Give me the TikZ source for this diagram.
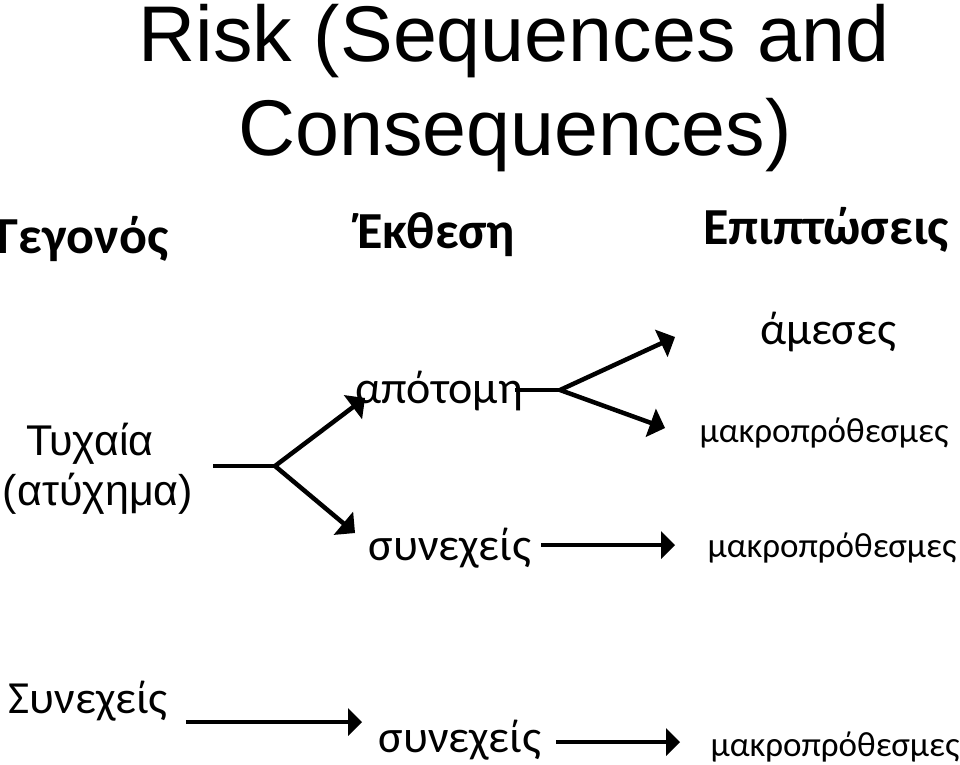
\documentclass[tikz,border=0pt]{standalone}
\usepackage{fontspec}
\setmainfont{Carlito}
\newfontfamily\arialfont{Liberation Sans}
\usetikzlibrary{arrows}
\usetikzlibrary{positioning}

\tikzset{
  head/.style={font=\bfseries\fontsize{52}{56}\selectfont, inner sep=0pt, anchor=base},
  big/.style={font=\fontsize{46}{50}\selectfont, inner sep=0pt, anchor=base},
  small/.style={font=\fontsize{35}{38}\selectfont, inner sep=0pt, anchor=base},
  ar/.style={font=\arialfont\fontsize{43}{46}\selectfont, inner sep=0pt, anchor=base},
  titletxt/.style={font=\arialfont\fontsize{79}{84}\selectfont, inner sep=0pt, anchor=base},
  branch/.style={line width=4.5pt, -triangle 90},
  thin/.style={line width=4pt, -triangle 90},
}

\begin{document}
\begin{tikzpicture}[x=1pt, y=-1pt]
\useasboundingbox (0,0) rectangle (960,764);

\node[titletxt] (title1) at (514,61) {Risk (Sequences and};
\node[titletxt] (title2) at (515,155) {Consequences)};

% headings
\node[head] (event) at (83,253) {Γεγονός};
\node[head] (expo) at (436,248) {Έκθεση};
\node[head] (impact) at (826,244) {Επιπτώσεις};

\node[ar] (random) at (90,455) {Τυχαία};
\node[ar] (accid) at (98,505) {(ατύχημα)};

\node[big] (sudden) at (439,403) {απότομη};
\node[big] (cont) at (450,560) {συνεχείς};
\node[big] (immed) at (828,344) {άμεσες};
\node[small] (long1) at (824,442) {μακροπρόθεσμες};
\node[small] (long2) at (832,557) {μακροπρόθεσμες};

\node[big] (steady) at (88,713) {Συνεχείς};
\node[big] (cont2) at (460,752) {συνεχείς};
\node[small] (long3) at (835,756) {μακροπρόθεσμες};

% branch points
\coordinate (start) at (213,466);
\coordinate (fork1) at (275,466);
\coordinate (fork2) at (560,390);
\coordinate (tip1) at (365,398);
\coordinate (tip2) at (355,533);
\coordinate (tip3) at (675,337);
\coordinate (tip4) at (665,428);
\coordinate (tip5) at (675,545);
\coordinate (tip6) at (362,722);
\coordinate (tip7) at (680,742);

\draw[line width=4.5pt] (start) -- (fork1);
\draw[branch] (fork1) -- (tip1);
\draw[branch] (fork1) -- (tip2);
\draw[line width=4.5pt] (sudden.east |- fork2) ++(-8,0) -- (fork2);
\draw[branch] (fork2) -- (tip3);
\draw[branch] (fork2) -- (tip4);

\draw[thin] (cont.east |- tip5) ++(10,0) -- (tip5);
\draw[thin] (steady.east |- tip6) ++(18,0) -- (tip6);
\draw[thin] (cont2.east |- tip7) ++(15,0) -- (tip7);
\end{tikzpicture}
\end{document}
